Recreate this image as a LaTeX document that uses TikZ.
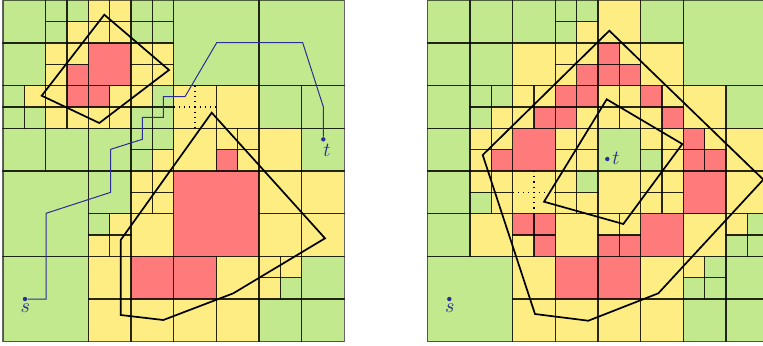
\documentclass[tikz,border=0pt]{standalone}
\usetikzlibrary{calc}
\definecolor{cg}{RGB}{194,233,142}
\definecolor{cy}{RGB}{253,237,130}
\definecolor{cr}{RGB}{255,122,122}
\definecolor{pathblue}{RGB}{45,45,150}
\tikzset{
  cellline/.style={draw=black, draw opacity=0.6, line width=0.55pt},
  crossline/.style={black, dotted, line width=0.6pt},
  polyline/.style={black, line width=0.85pt},
  route/.style={pathblue, line width=0.5pt},
  endpoint/.style={circle, fill=pathblue, inner sep=0pt, minimum size=2.2pt},
  endlabel/.style={text=pathblue, inner sep=0pt},
}
\newcommand\leftcells{%
0/0/2/cg, 0/2/2/cg,
2/0/1/cg, 3/0/1/cg, 2/1/1/cg, 3/1/1/cy,
4/0/1/cy, 5/0/1/cy, 4/1/1/cy, 5/1/1/cy,
6/0/1/cg, 7/0/1/cg, 6/1/1/cg, 7/1/1/cg,
2/2/1/cy, 3/2/1/cy, 2/3/1/cy, 3/3/1/cr,
4/2/2/cr,
6/2/1/cy, 7/2/1/cy, 6/3/1/cy, 7/3/1/cy,
0/4/1/cg, 1/4/1/cy, 0/5/1/cg, 1/5/1/cg,
2/4/1/cy, 3/4/1/cr, 2/5/1/cy, 3/5/1/cy,
4/4/1/cr, 5/4/1/cy, 4/5/1/cy, 5/5/1/cy,
6/4/1/cy, 7/4/1/cg, 6/5/1/cg, 7/5/1/cg,
0/6/2/cg, 2/6/2/cg, 4/6/2/cg,
6/6/1/cg, 7/6/1/cg, 6/7/1/cg, 7/7/1/cy,
8/0/4/cg, 12/0/4/cg,
8/4/2/cy, 10/4/2/cy, 8/6/2/cy,
10/6/1/cy, 11/6/1/cy, 10/7/1/cr, 11/7/1/cy,
12/4/2/cg, 14/4/2/cg, 12/6/2/cy, 14/6/2/cg,
0/8/4/cg, 0/12/4/cg,
4/8/2/cg,
6/8/1/cy, 7/8/1/cy, 6/9/1/cy, 7/9/1/cy,
4/10/1/cg, 5/10/1/cy, 4/11/1/cy, 5/11/1/cy,
6/10/2/cy,
4/12/2/cy, 6/12/2/cr, 4/14/2/cy, 6/14/2/cy,
8/8/4/cr,
12/8/2/cy, 14/8/2/cy, 12/10/2/cy, 14/10/2/cy,
8/12/2/cr, 10/12/2/cy, 8/14/2/cy, 10/14/2/cy,
12/12/1/cy, 13/12/1/cy, 12/13/1/cy, 13/13/1/cg,
14/12/2/cg, 12/14/2/cg, 14/14/2/cg}
\newcommand\rightcells{%
0/0/2/cg, 2/0/2/cg, 0/2/2/cg, 2/2/2/cg,
4/0/2/cg,
6/0/1/cg, 7/0/1/cg, 6/1/1/cg, 7/1/1/cy,
4/2/2/cy,
6/2/1/cy, 7/2/1/cy, 6/3/1/cy, 7/3/1/cr,
0/4/2/cg,
2/4/1/cg, 3/4/1/cg, 2/5/1/cg, 3/5/1/cy,
0/6/2/cg,
2/6/1/cy, 3/6/1/cy, 2/7/1/cy, 3/7/1/cr,
4/4/1/cy, 5/4/1/cy, 4/5/1/cy, 5/5/1/cr,
6/4/1/cr, 7/4/1/cr, 6/5/1/cr, 7/5/1/cy,
4/6/2/cr,
6/6/1/cy, 7/6/1/cy, 6/7/1/cy, 7/7/1/cy,
8/0/2/cy, 10/0/2/cg,
8/2/1/cr, 9/2/1/cy, 8/3/1/cr, 9/3/1/cr,
10/2/2/cy,
12/0/4/cg,
8/4/1/cy, 9/4/1/cy, 8/5/1/cy, 9/5/1/cy,
10/4/1/cr, 11/4/1/cy, 10/5/1/cy, 11/5/1/cr,
8/6/2/cg,
10/6/1/cy, 11/6/1/cy, 10/7/1/cg, 11/7/1/cy,
12/4/2/cy, 14/4/2/cg,
12/6/1/cr, 13/6/1/cy, 12/7/1/cr, 13/7/1/cr,
14/6/2/cy,
0/8/2/cg,
2/8/1/cy, 3/8/1/cy, 2/9/1/cg, 3/9/1/cy,
0/10/2/cg, 2/10/2/cy,
4/8/2/cy,
6/8/1/cy, 7/8/1/cg, 6/9/1/cy, 7/9/1/cy,
4/10/1/cr, 5/10/1/cr, 4/11/1/cy, 5/11/1/cr,
6/10/2/cy,
0/12/4/cg,
4/12/2/cy, 6/12/2/cr, 4/14/2/cy, 6/14/2/cy,
8/8/2/cy,
10/8/1/cy, 11/8/1/cy, 10/9/1/cy, 11/9/1/cy,
8/10/1/cy, 9/10/1/cy, 8/11/1/cr, 9/11/1/cr,
10/10/2/cr,
12/8/2/cr, 14/8/2/cy, 12/10/2/cy,
14/10/1/cy, 15/10/1/cg, 14/11/1/cg, 15/11/1/cg,
8/12/2/cr, 10/12/2/cy, 8/14/2/cy, 10/14/2/cy,
12/12/1/cy, 13/12/1/cg, 12/13/1/cg, 13/13/1/cg,
14/12/2/cg, 12/14/2/cg, 14/14/2/cg}
\begin{document}
\begin{tikzpicture}[x=0.5pt,y=-0.5pt]
\useasboundingbox (0,0) rectangle (763,345);
\begin{scope}
\clip (0,0) rectangle (763,345);
% left panel
\begin{scope}[shift={(3,0.3)}, x=10.6667pt, y=-10.6667pt]
  \foreach \c/\r/\s/\k in \leftcells {\fill[\k] (\c,\r) rectangle ++(\s,\s);}
  \foreach \c/\r/\s/\k in \leftcells {\draw[cellline] (\c,\r) rectangle ++(\s,\s);}
  \draw[crossline] (8,5) -- (10,5) (9,4) -- (9,6);
\end{scope}
% right panel
\begin{scope}[shift={(427.3,0.3)}, x=10.6667pt, y=-10.6667pt]
  \foreach \c/\r/\s/\k in \rightcells {\fill[\k] (\c,\r) rectangle ++(\s,\s);}
  \foreach \c/\r/\s/\k in \rightcells {\draw[cellline] (\c,\r) rectangle ++(\s,\s);}
  \draw[crossline] (4,9) -- (6,9) (5,8) -- (5,10);
\end{scope}
% obstacles
\draw[polyline] (104.3,14.7) -- (169,70) -- (99.3,123) -- (41.7,95.7) -- cycle;
\draw[polyline] (211.7,112.7) -- (325,238.3) -- (233.3,293.3) -- (163.3,320)
  -- (120.7,315) -- (120.7,240) -- cycle;
\draw[polyline] (609.3,30.7) -- (763.3,179.6) -- (658.3,293.3) -- (588.3,320.7)
  -- (535,314) -- (482.7,155) -- cycle;
\draw[polyline] (606.7,99.3) -- (682.3,144) -- (623.3,224) -- (544,201.7) -- cycle;
% route and end points
\node[endpoint] (sL) at (25,299) {};
\node[endpoint] (tL) at (323.3,139.3) {};
\node[endpoint] (sR) at (449.3,299) {};
\node[endpoint] (tR) at (607.3,159) {};
\draw[route] (sL) -- (46,299) -- (46,213.3) -- (110.7,192.3) -- (110.7,149.3)
  -- (142.3,139.3) -- (142.3,117.3) -- (163.3,117.3) -- (163.3,96.7)
  -- (185,96.7) -- (216.7,42.7) -- (302.7,42.7) -- (323.3,106.7) -- (tL);
\node[endlabel] (sLl) at (25.2,308) {$s$};
\node[endlabel] (tLl) at (327,150.3) {$t$};
\node[endlabel] (sRl) at (449.7,308) {$s$};
\node[endlabel] (tRl) at (616,158.7) {$t$};
\end{scope}
\end{tikzpicture}
\end{document}
